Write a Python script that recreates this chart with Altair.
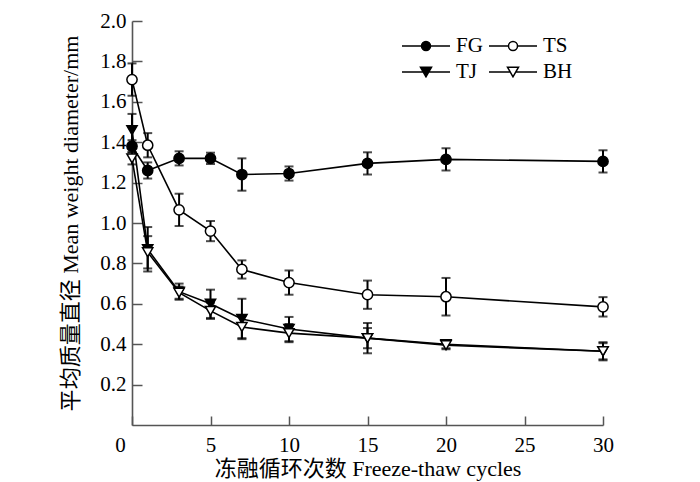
import altair as alt
import pandas as pd

cycles = [0, 1, 3, 5, 7, 10, 15, 20, 30]
series_names = ["FG", "TS", "TJ", "BH"]

fg = [1.38, 1.26, 1.32, 1.32, 1.24, 1.245, 1.295, 1.315, 1.305]
fg_err = [0.03, 0.04, 0.035, 0.028, 0.08, 0.035, 0.055, 0.055, 0.055]
ts = [1.71, 1.385, 1.065, 0.96, 0.77, 0.705, 0.645, 0.635, 0.585]
ts_err = [0.08, 0.06, 0.08, 0.05, 0.045, 0.06, 0.07, 0.093, 0.048]
tj = [1.46, 0.87, 0.66, 0.60, 0.525, 0.475, 0.43, 0.40, 0.365]
tj_err = [0.08, 0.11, 0.04, 0.07, 0.1, 0.06, 0.075, 0.02, 0.045]
bh = [1.32, 0.855, 0.655, 0.565, 0.485, 0.455, 0.43, 0.395, 0.365]
bh_err = [0.03, 0.08, 0.03, 0.04, 0.055, 0.045, 0.05, 0.02, 0.04]

x_ticks = [0, 5, 10, 15, 20, 25, 30]
y_ticks = [0.2, 0.4, 0.6, 0.8, 1.0, 1.2, 1.4, 1.6, 1.8, 2.0]

rows = []
for name, vals, errs in zip(series_names, [fg, ts, tj, bh], [fg_err, ts_err, tj_err, bh_err]):
    for c, v, e in zip(cycles, vals, errs):
        rows.append({"series": name, "cycle": c, "mwd": v, "lo": v - e, "hi": v + e})
df = pd.DataFrame(rows)

FONT = "Liberation Serif, Noto Sans CJK SC"
W, H = 471, 404

x_enc = alt.X(
    "cycle:Q",
    scale=alt.Scale(domain=[0, 30], nice=False),
    axis=alt.Axis(
        values=x_ticks,
        title="冻融循环次数  Freeze-thaw cycles",
        grid=False,
        labelFlush=False,
        tickSize={"expr": "-9"},
        labelPadding=18,
        labelOffset={"condition": {"test": "datum.value === 0", "value": -12}, "value": 0},
        titlePadding=3,
    ),
)
y_enc = alt.Y(
    "mwd:Q",
    scale=alt.Scale(domain=[0, 2], nice=False),
    axis=alt.Axis(
        values=y_ticks,
        format=".1f",
        title="平均质量直径 Mean weight diameter/mm",
        grid=False,
        tickSize={"expr": "-10"},
        labelPadding=16,
        titlePadding=17,
    ),
)

base = alt.Chart(df)

lines = base.mark_line(color="black", strokeWidth=1.6).encode(
    x=x_enc, y=y_enc, detail="series:N"
)
bars = base.mark_rule(color="black", strokeWidth=2).encode(
    x="cycle:Q", y="lo:Q", y2="hi:Q"
)
caps_lo = base.mark_tick(color="black", orient="horizontal", size=9, thickness=2).encode(
    x="cycle:Q", y="lo:Q"
)
caps_hi = base.mark_tick(color="black", orient="horizontal", size=9, thickness=2).encode(
    x="cycle:Q", y="hi:Q"
)
points = (
    base.transform_calculate(
        marker="(datum.series === 'FG' || datum.series === 'TS') ? 'circle' : 'triangle-down'",
        fillc="(datum.series === 'FG' || datum.series === 'TJ') ? 'black' : 'white'",
    )
    .mark_point(filled=True, size=105, stroke="black", strokeWidth=1.5, opacity=1)
    .encode(
        x="cycle:Q",
        y="mwd:Q",
        shape=alt.Shape("marker:N", scale=None),
        fill=alt.Fill("fillc:N", scale=None),
    )
)

circ = "M-2,0H-0.375M0.375,0H2M0.375,0A0.375,0.375,0,1,1,-0.375,0A0.375,0.375,0,1,1,0.375,0Z"
tri = "M-2,0H-0.23M0.23,0H2M0,0.4L-0.46,-0.4L0.46,-0.4Z"

leg = alt.Legend(
    title=None,
    orient="none",
    legendX=281,
    legendY=12,
    columns=2,
    direction="horizontal",
    symbolSize=576,
    symbolStrokeColor="black",
    symbolStrokeWidth=1.5,
    symbolOpacity=1,
    labelFont=FONT,
    labelFontSize=21,
    labelColor="black",
    labelOffset=17,
    columnPadding=3,
    rowPadding=3,
    padding=0,
)
legend_layer = base.mark_point(filled=True, opacity=0, stroke="black", strokeWidth=1.5).encode(
    x="cycle:Q",
    y="mwd:Q",
    shape=alt.Shape("series:N", scale=alt.Scale(domain=series_names, range=[circ, circ, tri, tri]), legend=leg),
    fill=alt.Fill("series:N", scale=alt.Scale(domain=series_names, range=["black", "white", "black", "white"]), legend=leg),
)

chart = (
    alt.layer(lines, bars, caps_lo, caps_hi, points, legend_layer)
    .properties(
        width=W,
        height=H,
        autosize=alt.AutoSizeParams(type="none"),
        padding={"left": 124, "top": 13, "right": 60, "bottom": 58},
    )
    .configure_view(stroke=None)
    .configure_axis(
        domainColor="#555555",
        domainWidth=1.6,
        tickColor="#555555",
        tickWidth=1.5,
        labelFont=FONT,
        labelFontSize=21,
        labelColor="black",
        titleFont=FONT,
        titleFontSize=22,
        titleFontWeight="normal",
        titleColor="black",
    )
)

chart.save("out.html", embed_options={"renderer": "svg", "actions": False})
